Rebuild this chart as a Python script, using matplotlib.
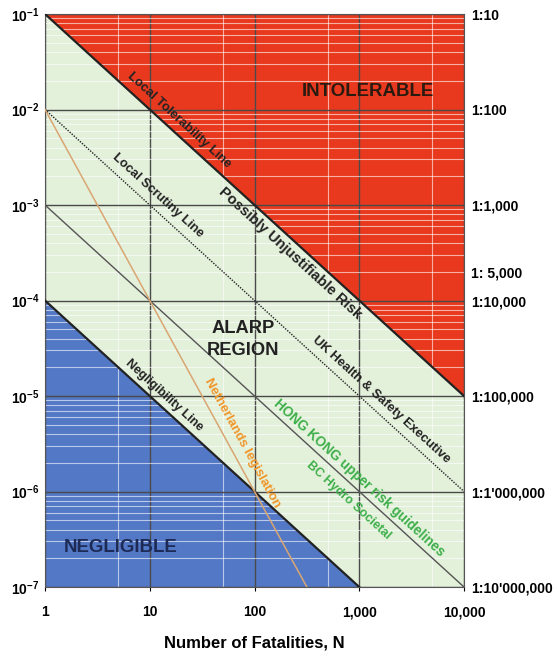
import numpy as np
import matplotlib
matplotlib.use('Agg')
from matplotlib import pyplot as plt
from matplotlib.ticker import LogLocator, FixedLocator, NullFormatter

plt.rcParams['font.family'] = ['Liberation Sans', 'DejaVu Sans']
plt.rcParams['mathtext.fontset'] = 'custom'
plt.rcParams['mathtext.bf'] = 'Liberation Sans:bold'
plt.rcParams['mathtext.rm'] = 'Liberation Sans'

# F-N 线 (N, F)
tol_N = [1, 10000]
tol_F = [1e-1, 1e-5]
neg_N = [1, 1000]
neg_F = [1e-4, 1e-7]
scr_N = [1, 10000]
scr_F = [1e-3, 1e-7]
hse_N = [1, 10000]
hse_F = [1e-2, 1e-6]
nl_N = [1, 10, 100, 316]
nl_F = [1e-2, 1e-4, 1e-6, 1e-7]

# 刻度
x_ticks = [1, 10, 100, 1000, 10000]
x_labels = ['1', '10', '100', '1,000', '10,000']
x_minor = [5, 50, 500, 5000]
y_ticks = [1e-1, 1e-2, 1e-3, 1e-4, 1e-5, 1e-6, 1e-7]
y_labels = [r'$\mathbf{10^{-%d}}$' % k for k in range(1, 8)]
right_ticks = [1e-1, 1e-2, 1e-3, 2e-4, 1e-4, 1e-5, 1e-6, 1e-7]
right_labels = ['1:10', '1:100', '1:1,000', '1: 5,000', '1:10,000',
                '1:100,000', "1:1'000,000", "1:10'000,000"]

red = '#E8391E'
blue = '#5378C6'
green = '#E3F0DA'
tan = '#D9A672'
orange = '#F0962A'
hk_green = '#3DAF4A'

fig = plt.figure(figsize=(5.59, 6.57), dpi=100)
ax = fig.add_axes([45 / 559, 70 / 657, 419 / 559, 573 / 657])
ax.set_xscale('log')
ax.set_yscale('log')
ax.set_xlim(1, 10000)
ax.set_ylim(1e-7, 1e-1)
ax.set_facecolor(green)

# 区域
ax.fill_between(tol_N, tol_F, 1e-1, color=red, lw=0, zorder=0.5)
ax.fill_between(neg_N, neg_F, 1e-7, color=blue, lw=0, zorder=0.5)

# 网格
ax.xaxis.set_minor_locator(FixedLocator(x_minor))
ax.xaxis.set_minor_formatter(NullFormatter())
ax.yaxis.set_minor_locator(LogLocator(base=10, subs=range(2, 10)))
ax.yaxis.set_minor_formatter(NullFormatter())
ax.grid(which='minor', color='white', lw=0.8, alpha=0.6)
ax.grid(which='major', color='#4a4a4a', lw=1.0)

# 线
ax.plot(tol_N, tol_F, color='#222222', lw=1.6, zorder=3)
ax.plot(neg_N, neg_F, color='#222222', lw=1.6, zorder=3)
ax.plot(scr_N, scr_F, color='#555555', lw=1.0, zorder=3)
ax.plot(hse_N, hse_F, color='#222222', lw=1.0, ls=(0, (1, 1)), zorder=3)
ax.plot(nl_N, nl_F, color=tan, lw=1.1, zorder=3)

ax.set_xticks(x_ticks, x_labels)
ax.set_yticks(y_ticks, y_labels)
ax.tick_params(axis='x', which='major', length=3, pad=10, labelsize=10)
ax.tick_params(axis='y', which='major', length=0, pad=4, labelsize=10)
ax.tick_params(which='minor', length=0)
for lab in ax.get_xticklabels():
    lab.set_fontweight('bold')
for s in ax.spines.values():
    s.set_color('#555555')
ax.set_xlabel('Number of Fatalities, N', fontsize=12, fontweight='bold', labelpad=12)

ax2 = ax.twinx()
ax2.set_yscale('log')
ax2.set_ylim(1e-7, 1e-1)
ax2.yaxis.set_minor_locator(FixedLocator([]))
ax2.set_yticks(right_ticks, right_labels)
ax2.tick_params(axis='y', length=0, pad=5, labelsize=10)
for lab in ax2.get_yticklabels():
    lab.set_fontweight('bold')
for s in ax2.spines.values():
    s.set_visible(False)


def line_label(text, n, f_of_n, slope, off, color='#222222', size=9):
    # 沿线放置文字，off 为垂直于线的偏移(点)
    f = f_of_n(n)
    p1 = ax.transData.transform((n, f))
    p2 = ax.transData.transform((n * 10, f / 10 ** slope))
    ang = np.degrees(np.arctan2(p2[1] - p1[1], p2[0] - p1[0]))
    t = np.radians(ang)
    dx, dy = -np.sin(t) * off, np.cos(t) * off
    ax.annotate(text, (n, f), xytext=(dx, dy), textcoords='offset points',
                rotation=ang, rotation_mode='anchor', ha='center', va='center',
                fontsize=size, fontweight='bold', color=color, zorder=5)


line_label('Local Tolerability Line', 16.1, lambda n: 0.1 / n, 1, 8.5, size=9.4)
line_label('Possibly Unjustifiable Risk', 259, lambda n: 0.1 / n, 1, -8.3, size=10.6)
line_label('Local Scrutiny Line', 9.9, lambda n: 1e-2 / n, 1, 8.8, size=9.3)
line_label('UK Health & Safety Executive', 1353, lambda n: 1e-2 / n, 1, 8.6, size=9.4)
line_label('Negligibility Line', 11.7, lambda n: 1e-4 / n, 1, 7.5, size=9)
line_label('Netherlands legislation', 60, lambda n: 1e-2 / n ** 2, 2, 9,
           color=orange, size=9.5)
line_label('HONG KONG upper risk guidelines', 862, lambda n: 1e-3 / n, 1, 6.8,
           color=hk_green, size=9.8)
line_label('BC Hydro Societal', 960, lambda n: 1e-3 / n, 1, -10,
           color=hk_green, size=9)

ax.text(1213, 1.56e-2, 'INTOLERABLE', fontsize=13.4, fontweight='bold',
        color='#2a1a10', ha='center', va='center', zorder=5)
ax.text(77.7, 5.15e-5, 'ALARP', fontsize=13.2, fontweight='bold',
        color='#222222', ha='center', va='center', zorder=5)
ax.text(77.7, 3.03e-5, 'REGION', fontsize=13.2, fontweight='bold',
        color='#222222', ha='center', va='center', zorder=5)
ax.text(5.3, 2.57e-7, 'NEGLIGIBLE', fontsize=13.4, fontweight='bold',
        color='#1c2a55', ha='center', va='center', zorder=5)

fig.savefig('out.png', dpi=100)
